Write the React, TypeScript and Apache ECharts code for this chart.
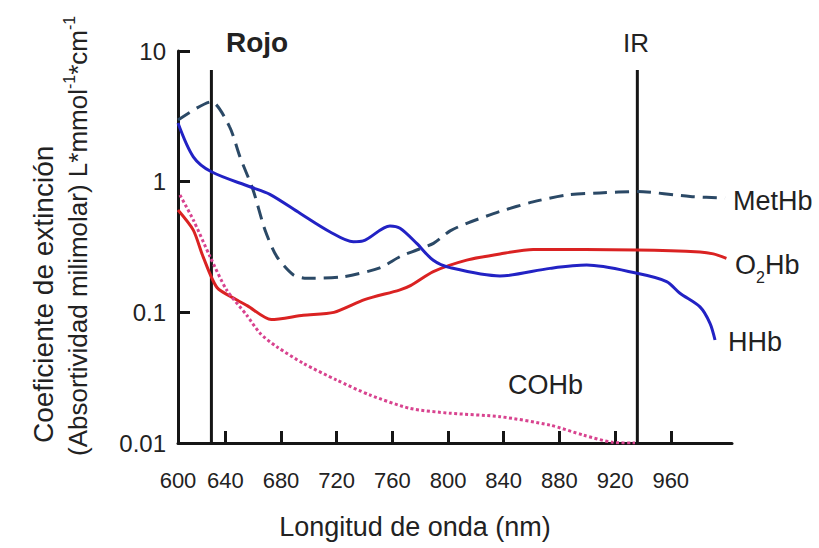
import React, { useEffect, useRef } from "react";
import * as echarts from "echarts";

const FONT = '"Liberation Sans", Arial, Helvetica, sans-serif';

// Wavelength axis (nm)
const xMin = 606;
const xMax = 1004;
const xTickLabels = [600, 640, 680, 720, 760, 800, 840, 880, 920, 960];
const xTickMarks = [640, 680, 720, 760, 800, 840, 880, 920, 960];
const yTickLabels = ["0.01", "0.1", "1", "10"];

// MetHb (dashed)
const metHbNm = [606, 630, 643, 650.5, 660, 668.5, 677, 689, 698.5, 724.5, 751, 765.5, 777.5, 789.5, 801.5, 813.5, 837, 861, 885, 909, 936, 974, 999];
const metHbVal = [2.96, 4.09, 2.64, 1.55, 0.86, 0.426, 0.267, 0.193, 0.182, 0.187, 0.219, 0.267, 0.3, 0.337, 0.42, 0.48, 0.59, 0.7, 0.79, 0.82, 0.84, 0.77, 0.75];

// HHb (blue)
const hhbNm = [606, 617, 630, 657.7, 672, 693.6, 715, 732, 739, 758.3, 765.5, 777.5, 789.4, 801.4, 837.3, 873.2, 899.6, 935.8, 957, 966.6, 981, 988.2, 991.8];
const hhbVal = [2.81, 1.55, 1.19, 0.914, 0.8, 0.573, 0.414, 0.347, 0.352, 0.458, 0.44, 0.337, 0.25, 0.22, 0.19, 0.217, 0.23, 0.199, 0.172, 0.14, 0.11, 0.0824, 0.0614];

// O2Hb (red)
const o2hbNm = [606, 617, 624, 634, 648, 656, 673, 696, 718, 740, 765, 773, 789.4, 813.4, 837.3, 861.2, 935.8, 981, 990.6, 1000];
const o2hbVal = [0.607, 0.426, 0.267, 0.155, 0.125, 0.112, 0.088, 0.095, 0.1, 0.125, 0.148, 0.16, 0.205, 0.251, 0.28, 0.303, 0.3, 0.29, 0.28, 0.259];

// COHb (dotted)
const cohbNm = [607.4, 617, 629, 641, 655.4, 664.9, 676.9, 696, 720, 743.9, 772.7, 801.4, 837.3, 873.2, 897.2, 918.7, 934.3];
const cohbVal = [0.79, 0.509, 0.267, 0.148, 0.095, 0.0692, 0.0546, 0.0407, 0.0303, 0.0233, 0.0184, 0.0169, 0.0159, 0.0137, 0.0115, 0.0101, 0.01];

// Band markers
const rojoNm = 630;
const irNm = 936;
const markerTop = 7.15;
const markerBottom = 0.01;

const zip = (xs: number[], ys: number[]) => xs.map((x, i) => [x, ys[i]]);

export default function App() {
  const ref = useRef<HTMLDivElement>(null);

  useEffect(() => {
    document.body.style.margin = "0";
    if (!ref.current) return;
    const chart = echarts.init(ref.current, null, { renderer: "svg" });
    const textColor = "#222";
    const axisColor = "#161616";

    const labelStyle = (extra: any) => ({
      fontFamily: FONT,
      fill: textColor,
      ...extra,
    });

    chart.setOption({
      animation: false,
      backgroundColor: "#ffffff",
      grid: { left: 178, right: 87, top: 51, bottom: 105, containLabel: false },
      xAxis: {
        type: "value",
        min: xMin,
        max: xMax,
        splitLine: { show: false },
        axisLine: { show: true, lineStyle: { color: axisColor, width: 3 } },
        axisTick: {
          show: true,
          inside: true,
          length: 12,
          lineStyle: { color: axisColor, width: 3 },
          customValues: xTickMarks,
        },
        axisLabel: {
          show: true,
          margin: 26,
          fontSize: 22,
          fontFamily: FONT,
          color: textColor,
          customValues: xTickLabels.map((v) => Math.max(v, xMin)),
          formatter: (v: number) => {
            const t = xTickLabels.find((l) => Math.abs(Math.max(l, xMin) - v) < 0.5);
            return t === undefined ? "" : String(t);
          },
        },
      },
      yAxis: {
        type: "log",
        logBase: 10,
        min: 0.01,
        max: 10,
        splitLine: { show: false },
        minorTick: { show: false },
        axisLine: { show: true, lineStyle: { color: axisColor, width: 3 } },
        axisTick: { show: true, inside: true, length: 12, lineStyle: { color: axisColor, width: 3 } },
        axisLabel: {
          margin: 12,
          fontSize: 24,
          fontFamily: FONT,
          color: textColor,
          formatter: (v: number) => {
            const s = yTickLabels.find((l) => Math.abs(parseFloat(l) - v) / v < 0.01);
            return s ?? "";
          },
        },
      },
      series: [
        {
          name: "Rojo",
          type: "line",
          data: [[rojoNm, markerBottom], [rojoNm, markerTop]],
          symbol: "none",
          lineStyle: { color: axisColor, width: 3 },
          z: 1,
        },
        {
          name: "IR",
          type: "line",
          data: [[irNm, markerBottom], [irNm, markerTop]],
          symbol: "none",
          lineStyle: { color: axisColor, width: 3 },
          z: 1,
        },
        {
          name: "MetHb",
          type: "line",
          data: zip(metHbNm, metHbVal),
          symbol: "none",
          smooth: 0.25,
          lineStyle: { color: "#2b4966", width: 3, type: [14, 8] },
          z: 3,
        },
        {
          name: "O2Hb",
          type: "line",
          data: zip(o2hbNm, o2hbVal),
          symbol: "none",
          smooth: 0.25,
          lineStyle: { color: "#da2222", width: 3 },
          z: 3,
        },
        {
          name: "HHb",
          type: "line",
          data: zip(hhbNm, hhbVal),
          symbol: "none",
          smooth: 0.3,
          lineStyle: { color: "#2222c4", width: 3 },
          z: 4,
        },
        {
          name: "COHb",
          type: "line",
          data: zip(cohbNm, cohbVal),
          symbol: "none",
          smooth: 0.25,
          lineStyle: { color: "#d8438f", width: 3, type: [3, 2.5] },
          z: 3,
        },
      ],
      graphic: [
        {
          type: "text",
          x: 226,
          y: 42,
          style: labelStyle({ text: "Rojo", fontSize: 28, fontWeight: "bold", align: "left", verticalAlign: "middle" }),
        },
        {
          type: "text",
          x: 636,
          y: 43,
          style: labelStyle({ text: "IR", fontSize: 26, align: "center", verticalAlign: "middle" }),
        },
        {
          type: "text",
          x: 733,
          y: 201,
          style: labelStyle({ text: "MetHb", fontSize: 27, align: "left", verticalAlign: "middle" }),
        },
        {
          type: "text",
          x: 735,
          y: 266,
          style: labelStyle({
            text: "{n|O}{s|2}{n|Hb}",
            align: "left",
            verticalAlign: "middle",
            rich: {
              n: { fontSize: 27, fontFamily: FONT, fill: textColor, color: textColor, verticalAlign: "top", lineHeight: 30 },
              s: { fontSize: 16, fontFamily: FONT, fill: textColor, color: textColor, verticalAlign: "bottom", lineHeight: 30, padding: [0, 0, -4, 0] },
            },
          }),
        },
        {
          type: "text",
          x: 728,
          y: 342,
          style: labelStyle({ text: "HHb", fontSize: 27, align: "left", verticalAlign: "middle" }),
        },
        {
          type: "text",
          x: 508,
          y: 385,
          style: labelStyle({ text: "COHb", fontSize: 27, align: "left", verticalAlign: "middle" }),
        },
        {
          type: "text",
          x: 415,
          y: 527,
          style: labelStyle({ text: "Longitud de onda (nm)", fontSize: 27, align: "center", verticalAlign: "middle" }),
        },
        {
          type: "text",
          x: 43,
          y: 443,
          rotation: Math.PI / 2,
          style: labelStyle({ text: "Coeficiente de extinción", fontSize: 28, align: "left", verticalAlign: "middle" }),
        },
        {
          type: "text",
          x: 76,
          y: 456,
          rotation: Math.PI / 2,
          style: labelStyle({
            text: "{n|(Absortividad milimolar) L*mmol}{s|-1}{n|*cm}{s|-1}",
            align: "left",
            verticalAlign: "middle",
            rich: {
              n: { fontSize: 26, fontFamily: FONT, fill: textColor, color: textColor, verticalAlign: "bottom", lineHeight: 30 },
              s: { fontSize: 16, fontFamily: FONT, fill: textColor, color: textColor, verticalAlign: "top", lineHeight: 30 },
            },
          }),
        },
      ],
    });

    return () => {
      chart.dispose();
    };
  }, []);

  return <div ref={ref} style={{ width: 819, height: 548 }} />;
}
